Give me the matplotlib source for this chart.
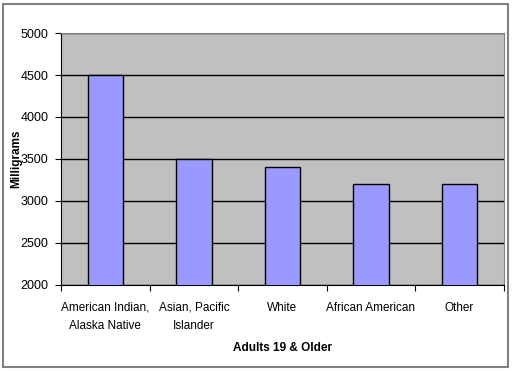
import matplotlib.pyplot as plt
from matplotlib.patches import Rectangle

# data
categories = ['American Indian,\nAlaska Native', 'Asian, Pacific\nIslander', 'White',
              'African American', 'Other']
values = [4500, 3500, 3400, 3200, 3200]

plt.rcParams['font.family'] = ['Liberation Sans', 'DejaVu Sans']

fig = plt.figure(figsize=(5.13, 3.71), dpi=100)
ax = fig.add_axes([0.119, 0.232, 0.863, 0.679])

x = list(range(len(categories)))
ax.set_facecolor('#C0C0C0')
ax.bar(x, values, width=0.4, color='#9999FF', edgecolor='black', linewidth=1, zorder=3)

ax.set_ylim(2000, 5000)
ax.set_xlim(-0.5, len(categories) - 0.5)
ax.set_yticks(range(2000, 5001, 500))
ax.yaxis.grid(True, color='black', linewidth=1, zorder=0)
ax.set_axisbelow(True)

# category labels between the boundary ticks
ax.set_xticks([i + 0.5 for i in range(-1, len(categories))])
ax.set_xticklabels([])
ax.set_xticks(x, minor=True)
ax.set_xticklabels(categories, minor=True, fontsize=8.5, linespacing=1.7)
ax.tick_params(axis='x', which='minor', length=0, pad=12)
ax.tick_params(axis='x', which='major', length=4, color='black')
ax.tick_params(axis='y', labelsize=9, length=4, color='black', pad=5)

for s in ['top', 'right']:
    ax.spines[s].set_color('#808080')
for s in ['left', 'bottom']:
    ax.spines[s].set_color('black')

ax.set_ylabel('Milligrams', fontsize=8.5, fontweight='bold', labelpad=-1)
ax.set_xlabel('Adults 19 & Older', fontsize=8.5, fontweight='bold', labelpad=7)

# outer chart frame
fig.patches.append(Rectangle((0.005, 0.012), 0.985, 0.978, transform=fig.transFigure,
                             fill=False, edgecolor='#808080', linewidth=1.5))

plt.savefig('out.png', dpi=100)
